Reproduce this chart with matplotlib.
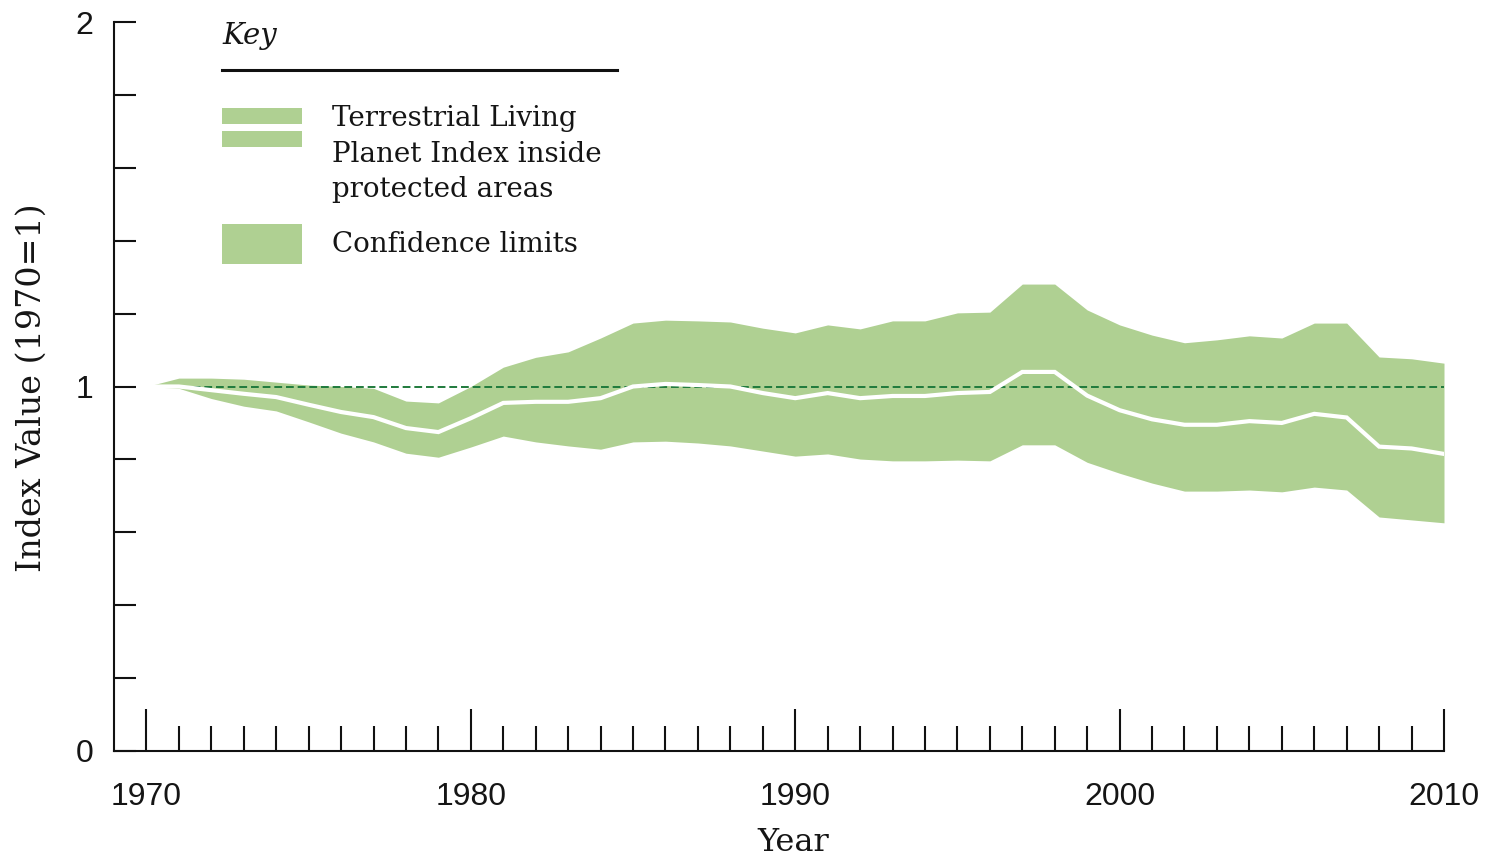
import matplotlib
matplotlib.use("Agg")
import matplotlib.pyplot as plt
from matplotlib.patches import Rectangle
from matplotlib.lines import Line2D
import numpy as np

years = list(range(1970, 2011))
index_vals = [1.0, 1.0, 0.99, 0.98, 0.971, 0.95, 0.93, 0.916, 0.886, 0.875,
              0.913, 0.955, 0.958, 0.958, 0.968, 1.0, 1.007, 1.004, 1.0, 0.982,
              0.968, 0.982, 0.968, 0.974, 0.974, 0.982, 0.985, 1.04, 1.04, 0.975,
              0.935, 0.91, 0.895, 0.895, 0.905, 0.90, 0.925, 0.915, 0.835, 0.83,
              0.815]
upper = [1.0, 1.023, 1.023, 1.02, 1.012, 1.004, 1.0, 0.995, 0.96, 0.955,
         1.0, 1.053, 1.08, 1.095, 1.133, 1.174, 1.182, 1.18, 1.177, 1.16,
         1.147, 1.169, 1.158, 1.18, 1.18, 1.202, 1.204, 1.281, 1.281, 1.21,
         1.169, 1.141, 1.12, 1.128, 1.139, 1.133, 1.174, 1.174, 1.081, 1.076,
         1.064]
lower = [1.0, 0.995, 0.967, 0.946, 0.933, 0.903, 0.872, 0.848, 0.817, 0.806,
         0.834, 0.864, 0.848, 0.837, 0.828, 0.848, 0.85, 0.845, 0.837, 0.823,
         0.809, 0.815, 0.801, 0.796, 0.796, 0.798, 0.796, 0.84, 0.84, 0.792,
         0.762, 0.735, 0.713, 0.713, 0.716, 0.711, 0.724, 0.716, 0.642, 0.634,
         0.626]
baseline = 1.0
ytick_labels = {0: "0", 1: "1", 2: "2"}
xtick_major = [1970, 1980, 1990, 2000, 2010]
legend_labels = ["Terrestrial Living\nPlanet Index inside\nprotected areas", "Confidence limits"]

W, H = 1490, 861
GREEN = "#afd092"
DASH = "#1f7a3c"
SERIF = ["DejaVu Serif"]
SANS = ["Liberation Sans", "DejaVu Sans"]
TXT = "#151515"

fig = plt.figure(figsize=(W / 100, H / 100), dpi=100)
ax = fig.add_axes([114 / W, 1 - 751 / H, (1444 - 114) / W, (751 - 22) / H])

ax.fill_between(years, lower, upper, color=GREEN, linewidth=0, zorder=1)
ax.plot([years[0], years[-1]], [baseline, baseline], color=DASH, lw=1.4,
        linestyle=(0, (4, 2)), zorder=2)
ax.plot(years, index_vals, color="white", lw=3.0, zorder=3, solid_joinstyle="miter")

ax.set_xlim(1969, 2010)
ax.set_ylim(0, 2)

for s in ["top", "right"]:
    ax.spines[s].set_visible(False)
for s in ["left", "bottom"]:
    ax.spines[s].set_linewidth(1.5)
    ax.spines[s].set_color("#111111")

ax.set_xticks(xtick_major)
ax.set_xticks(years, minor=True)
ax.set_xticklabels([str(y) for y in xtick_major], fontfamily=SANS, fontsize=23, color=TXT)
ax.tick_params(axis="x", which="major", direction="in", length=30, width=1.5,
               color="#111111", pad=22)
ax.tick_params(axis="x", which="minor", direction="in", length=18, width=1.5,
               color="#111111")

yt = np.round(np.arange(0, 2.01, 0.2), 1)
ax.set_yticks(yt)
ax.set_yticklabels([ytick_labels.get(int(v), "") if abs(v - round(v)) < 1e-9 else "" for v in yt],
                   fontfamily=SANS, fontsize=23, color=TXT)
ax.tick_params(axis="y", direction="in", length=16, width=1.5, color="#111111", pad=15)

ax.set_xlabel("Year", fontfamily=SERIF, fontsize=23, color=TXT)
ax.xaxis.set_label_coords((793 - 114) / 1330, (751 - 827) / 729)
ax.set_ylabel("Index Value (1970=1)", fontfamily=SERIF, fontsize=24, color=TXT)
ax.yaxis.set_label_coords((48 - 114) / 1330, (751 - 388) / 729)

def fx(px):
    return px / W

def fy(py):
    return 1 - py / H

# Key
fig.text(fx(222), fy(36), "Key", fontfamily=SERIF, fontstyle="italic", fontsize=21,
         va="center", ha="left", color=TXT)
fig.add_artist(Line2D([fx(222), fx(617)], [fy(70), fy(70)], color="#111111", lw=2.2,
                      transform=fig.transFigure))
fig.add_artist(Rectangle((fx(222), fy(124)), fx(302) - fx(222), fy(108) - fy(124),
                         transform=fig.transFigure, color=GREEN, lw=0))
fig.add_artist(Rectangle((fx(222), fy(147)), fx(302) - fx(222), fy(131) - fy(147),
                         transform=fig.transFigure, color=GREEN, lw=0))
fig.add_artist(Rectangle((fx(222), fy(264)), fx(302) - fx(222), fy(224) - fy(264),
                         transform=fig.transFigure, color=GREEN, lw=0))
fig.text(fx(332), fy(154), legend_labels[0], fontfamily=SERIF, fontsize=20,
         va="center", ha="left", linespacing=1.4, color=TXT)
fig.text(fx(332), fy(245), legend_labels[1], fontfamily=SERIF, fontsize=20,
         va="center", ha="left", color=TXT)

fig.savefig("out.png", dpi=100)
